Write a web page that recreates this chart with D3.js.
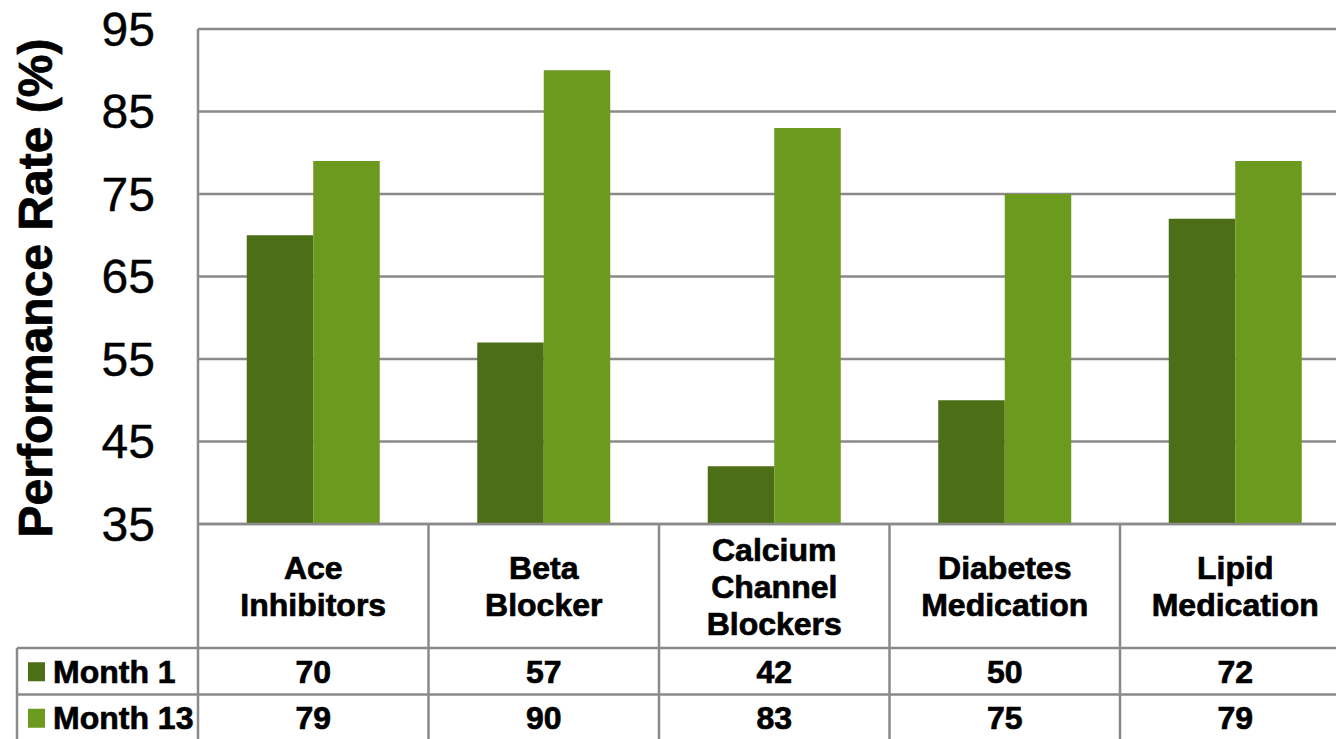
<!DOCTYPE html>
<html lang="en">
<head>
<meta charset="UTF-8">
<title>Performance Rate by Medication</title>
<script src="https://cdn.jsdelivr.net/npm/d3@7"></script>
<style>
    body { margin: 0; background: #fff; }
    text { font-family: "Liberation Sans", Arial, sans-serif; fill: #000; }
    text.heavy { stroke: #000; stroke-width: 0.7px; }
</style>
</head>
<body>
<script>
    const categories = ['Ace Inhibitors', 'Beta Blocker', 'Calcium Channel Blockers', 'Diabetes Medication', 'Lipid Medication'];
    const categoryLines = [['Ace', 'Inhibitors'], ['Beta', 'Blocker'], ['Calcium', 'Channel', 'Blockers'], ['Diabetes', 'Medication'], ['Lipid', 'Medication']];
    const seriesNames = ['Month 1', 'Month 13'];
    const month1 = [70, 57, 42, 50, 72];
    const month13 = [79, 90, 83, 75, 79];
    const yTicks = [35, 45, 55, 65, 75, 85, 95];
    const colors = ['#4b6e16', '#6b9a1e'];

    const series = [month1, month13];
    const w = 1336, h = 739;
    const plotLeft = 198, plotRight = 1350.5, plotTop = 29, plotBottom = 524;
    const headerBottom = 648, rowH = 46.5, legendLeft = 17;
    const gridColor = '#8a8a8a';

    let svg = d3.select('body')
        .append('svg')
        .attr('width', w)
        .attr('height', h);

    // category bands, then the two bars inside each band
    let x0 = d3.scaleBand()
        .domain(d3.range(categories.length))
        .range([plotLeft, plotRight]);
    const groupW = x0.bandwidth() * 0.577;
    let x1 = d3.scaleBand()
        .domain(d3.range(series.length))
        .range([0, groupW]);
    let y = d3.scaleLinear()
        .domain([35, 95])
        .range([plotBottom, plotTop]);

    // gridlines
    svg.append('g').selectAll('line')
        .data(yTicks)
        .enter()
        .append('line')
        .attr('x1', plotLeft)
        .attr('x2', w)
        .attr('y1', d => y(d))
        .attr('y2', d => y(d))
        .attr('stroke', gridColor)
        .attr('stroke-width', 2.5);

    // tick labels
    svg.append('g').selectAll('text')
        .data(yTicks)
        .enter()
        .append('text')
        .text(d => d)
        .attr('x', 155)
        .attr('y', d => y(d))
        .attr('dy', '0.35em')
        .attr('text-anchor', 'end')
        .attr('font-size', '48px')
        .attr('stroke', '#000')
        .attr('stroke-width', 0.4);

    // bars
    series.forEach((vals, s) => {
        svg.append('g').selectAll('rect')
            .data(vals)
            .enter()
            .append('rect')
            .attr('x', (d, i) => x0(i) + (x0.bandwidth() - groupW) / 2 + x1(s))
            .attr('y', d => y(d))
            .attr('width', x1.bandwidth())
            .attr('height', d => y(35) - y(d))
            .attr('fill', colors[s]);
    });

    // axis title
    svg.append('text')
        .attr('class', 'heavy')
        .text('Performance Rate (%)')
        .attr('transform', 'translate(52,288) rotate(-90)')
        .attr('text-anchor', 'middle')
        .attr('font-size', '48px')
        .attr('font-weight', 'bold');

    // data table lines
    let tbl = svg.append('g')
        .attr('stroke', gridColor)
        .attr('stroke-width', 2.5);
    tbl.append('line').attr('x1', plotLeft).attr('x2', plotLeft).attr('y1', plotTop).attr('y2', h);
    tbl.append('line').attr('x1', legendLeft).attr('x2', legendLeft).attr('y1', headerBottom).attr('y2', h);
    tbl.selectAll('.v')
        .data(d3.range(1, categories.length))
        .enter()
        .append('line')
        .attr('x1', i => x0(i))
        .attr('x2', i => x0(i))
        .attr('y1', plotBottom)
        .attr('y2', h);
    tbl.append('line').attr('x1', plotLeft).attr('x2', w).attr('y1', plotBottom).attr('y2', plotBottom);
    tbl.selectAll('.hz')
        .data([headerBottom, headerBottom + rowH])
        .enter()
        .append('line')
        .attr('x1', legendLeft)
        .attr('x2', w)
        .attr('y1', d => d)
        .attr('y2', d => d);

    // header labels
    const headerMid = (plotBottom + headerBottom) / 2;
    categoryLines.forEach((lines, i) => {
        let t = svg.append('text')
            .attr('class', 'heavy')
            .attr('text-anchor', 'middle')
            .attr('font-size', '32px')
            .attr('font-weight', 'bold');
        lines.forEach((ln, k) => {
            t.append('tspan')
                .text(ln)
                .attr('x', x0(i) + x0.bandwidth() / 2)
                .attr('y', headerMid + 11.5 - (lines.length - 1) * 37 / 2 + k * 37);
        });
    });

    // value rows with legend keys
    series.forEach((vals, s) => {
        const cy = headerBottom + rowH * s + rowH / 2;
        svg.append('rect')
            .attr('x', 28)
            .attr('y', cy - 9)
            .attr('width', 17)
            .attr('height', 19)
            .attr('fill', colors[s]);
        svg.append('text')
            .attr('class', 'heavy')
            .text(seriesNames[s])
            .attr('x', 53)
            .attr('y', cy + 11.5)
            .attr('font-size', '32px')
            .attr('font-weight', 'bold');
        svg.append('g').selectAll('text')
            .data(vals)
            .enter()
            .append('text')
            .attr('class', 'heavy')
            .text(d => d)
            .attr('x', (d, i) => x0(i) + x0.bandwidth() / 2)
            .attr('y', cy + 11.5)
            .attr('text-anchor', 'middle')
            .attr('font-size', '32px')
            .attr('font-weight', 'bold');
    });
</script>
</body>
</html>
